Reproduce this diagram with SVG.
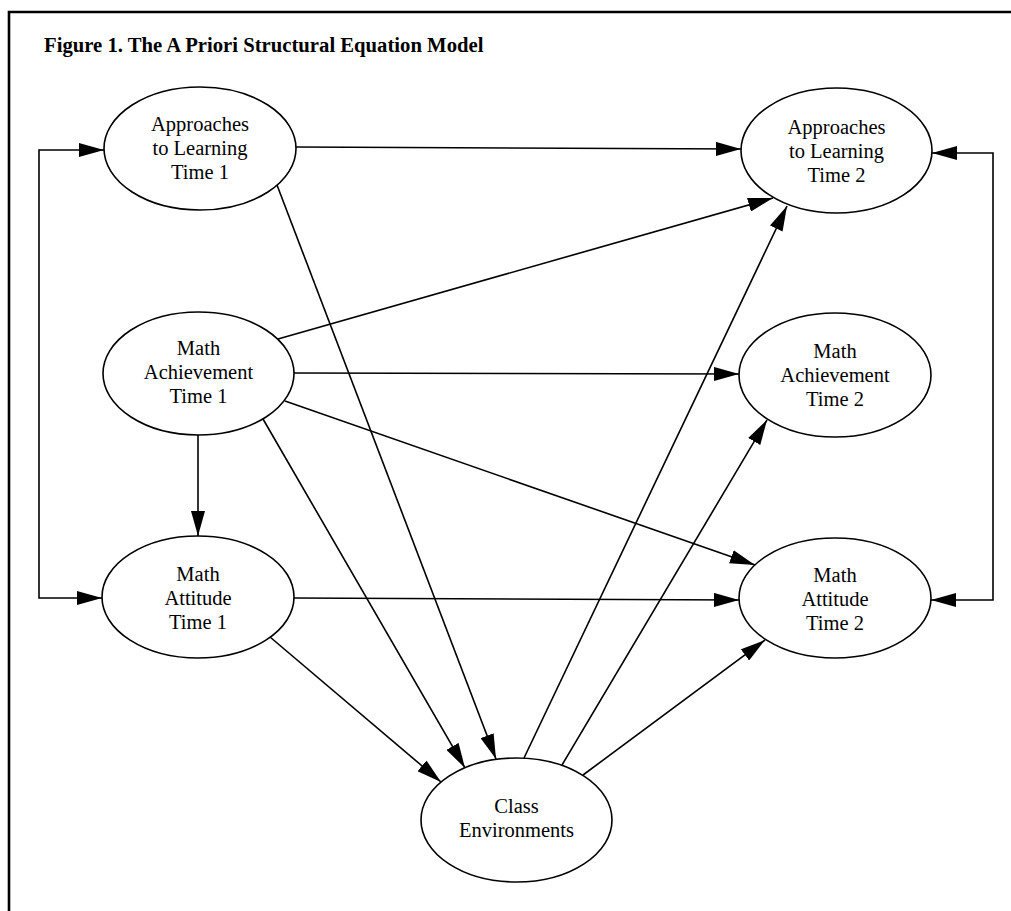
<svg xmlns="http://www.w3.org/2000/svg" width="1011" height="911" viewBox="0 0 1011 911">
<style>
.n ellipse{fill:#fff;stroke:#000;stroke-width:1.6}
.n text{font-family:"Liberation Serif","Times New Roman",serif;font-size:20.5px;text-anchor:middle;fill:#000}
.c path{fill:none;stroke:#000;stroke-width:1.6;marker-end:url(#ah)}
.c path.b{marker-start:url(#ah)}
.t{font-family:"Liberation Serif","Times New Roman",serif;font-weight:bold;font-size:20.7px;fill:#000}
</style>
<defs>
<marker id="ah" viewBox="0 0 25 14" refX="25" refY="7" markerWidth="25" markerHeight="14" orient="auto-start-reverse" markerUnits="userSpaceOnUse">
<path d="M0,0 L25,7 L0,14 z" fill="#000"/>
</marker>
</defs>
<rect width="1011" height="911" fill="#fff"/>
<path d="M9,911 L9,12 L1011,12" fill="none" stroke="#000" stroke-width="2.6"/>
<text class="t" x="44" y="52">Figure 1. The A Priori Structural Equation Model</text>
<g class="c" id="connectors">
<path d="M296,147 L741,149"/>
<path d="M277,185 L496,759"/>
<path d="M263,419 L465,768"/>
<path d="M270,637 L441,782"/>
<path d="M524,758 L787,206"/>
<path d="M562,765 L767,420"/>
<path d="M583,775 L765,640"/>
<path d="M278,339 L773,198"/>
<path d="M294,373 L739,374"/>
<path d="M285,401 L755,565"/>
<path d="M198,435 L198,536"/>
<path d="M294,598 L739,600"/>
<path class="b" d="M104,150 L39,150 L39,598 L102,598"/>
<path class="b" d="M932,153 L993,153 L993,600 L931,600"/>
</g>
<g class="n" id="al1"><ellipse cx="200" cy="148.5" rx="96" ry="61.5"/><text x="200" y="131">Approaches</text><text x="200" y="155">to Learning</text><text x="200" y="179">Time 1</text></g>
<g class="n" id="al2"><ellipse cx="836.5" cy="150.5" rx="95.5" ry="62.5"/><text x="836.5" y="134">Approaches</text><text x="836.5" y="158">to Learning</text><text x="836.5" y="182">Time 2</text></g>
<g class="n" id="ma1"><ellipse cx="198.5" cy="373.5" rx="95.5" ry="61.5"/><text x="198.5" y="355">Math</text><text x="198.5" y="379">Achievement</text><text x="198.5" y="403">Time 1</text></g>
<g class="n" id="ma2"><ellipse cx="835" cy="375" rx="96" ry="62"/><text x="835" y="358">Math</text><text x="835" y="382">Achievement</text><text x="835" y="406">Time 2</text></g>
<g class="n" id="mat1"><ellipse cx="198" cy="597" rx="96" ry="61"/><text x="198" y="581">Math</text><text x="198" y="605">Attitude</text><text x="198" y="629">Time 1</text></g>
<g class="n" id="mat2"><ellipse cx="835" cy="598" rx="96" ry="60"/><text x="835" y="582">Math</text><text x="835" y="606">Attitude</text><text x="835" y="630">Time 2</text></g>
<g class="n" id="ce"><ellipse cx="516.5" cy="820" rx="95.5" ry="62"/><text x="516.5" y="813">Class</text><text x="516.5" y="837">Environments</text></g>
</svg>
